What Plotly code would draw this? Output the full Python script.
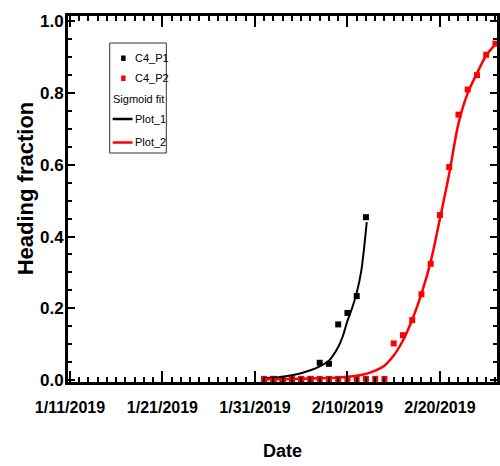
import pandas as pd
import plotly.graph_objects as go

# ---- observed heading fractions ----
p1_dates = ["2019-02-01", "2019-02-02", "2019-02-03", "2019-02-04", "2019-02-05", "2019-02-06",
            "2019-02-07", "2019-02-08", "2019-02-09", "2019-02-10", "2019-02-11", "2019-02-12"]
p1_values = [0.003, 0.003, 0.003, 0.003, 0.003, 0.003,
             0.048, 0.045, 0.155, 0.187, 0.234, 0.454]

p2_dates = ["2019-02-01", "2019-02-02", "2019-02-03", "2019-02-04", "2019-02-05", "2019-02-06",
            "2019-02-07", "2019-02-08", "2019-02-09", "2019-02-10", "2019-02-11", "2019-02-12",
            "2019-02-13", "2019-02-14", "2019-02-15", "2019-02-16", "2019-02-17", "2019-02-18",
            "2019-02-19", "2019-02-20", "2019-02-21", "2019-02-22", "2019-02-23", "2019-02-24",
            "2019-02-25", "2019-02-26"]
p2_values = [0.003, 0.003, 0.003, 0.003, 0.003, 0.003,
             0.003, 0.003, 0.003, 0.003, 0.003, 0.003,
             0.003, 0.003, 0.102, 0.125, 0.167, 0.239,
             0.324, 0.460, 0.594, 0.740, 0.810, 0.850,
             0.907, 0.938]

# ---- sigmoid fit curves (sampled) ----
fit1_dates = ["2019-02-01", "2019-02-03", "2019-02-05", "2019-02-06", "2019-02-07", "2019-02-08",
              "2019-02-09", "2019-02-09 12:00", "2019-02-10", "2019-02-10 12:00", "2019-02-11",
              "2019-02-11 12:00", "2019-02-12", "2019-02-12 02:00"]
fit1_values = [0.005, 0.009, 0.019, 0.027, 0.038, 0.054,
               0.092, 0.122, 0.165, 0.200, 0.243,
               0.305, 0.418, 0.440]

fit2_dates = ["2019-02-01", "2019-02-04", "2019-02-07", "2019-02-09", "2019-02-10", "2019-02-11",
              "2019-02-12", "2019-02-13", "2019-02-14", "2019-02-15", "2019-02-16", "2019-02-17",
              "2019-02-18", "2019-02-19", "2019-02-20", "2019-02-21", "2019-02-22", "2019-02-23",
              "2019-02-24", "2019-02-25", "2019-02-26", "2019-02-26 04:00"]
fit2_values = [0.002, 0.003, 0.005, 0.007, 0.009, 0.012,
               0.017, 0.026, 0.040, 0.068, 0.110, 0.168,
               0.240, 0.330, 0.450, 0.575, 0.715, 0.800,
               0.855, 0.905, 0.936, 0.940]

series_names = ["C4_P1", "C4_P2", "Plot_1", "Plot_2"]
legend_heading = "Sigmoid fit"
y_title = "Heading fraction"
x_title = "Date"
colors = ["#000000", "#ff0000"]

FONT = "Liberation Sans, Arial, sans-serif"


def to_dt(values):
    return pd.to_datetime(values, format="ISO8601")


fig = go.Figure()
fig.add_trace(go.Scatter(x=to_dt(p1_dates), y=p1_values, mode="markers",
                         name=series_names[0],
                         marker=dict(symbol="square", size=6, color=colors[0])))
fig.add_trace(go.Scatter(x=to_dt(p2_dates), y=p2_values, mode="markers",
                         name=series_names[1],
                         marker=dict(symbol="square", size=6, color=colors[1])))
fig.add_trace(go.Scatter(x=to_dt(fit1_dates), y=fit1_values, mode="lines",
                         name=series_names[2], line=dict(color=colors[0], width=2, shape="spline")))
fig.add_trace(go.Scatter(x=to_dt(fit2_dates), y=fit2_values, mode="lines",
                         name=series_names[3], line=dict(color=colors[1], width=2.5, shape="spline")))

# plot-area geometry in pixels
W, H = 500, 466
L, R, T, B = 68, 500, 16, 382


def px(x):
    return (x - L) / (R - L)


def py(y):
    return (B - y) / (B - T)


# legend drawn as a framed box
shapes = [
    dict(type="rect", xref="paper", yref="paper", x0=px(110), x1=px(167), y0=py(153), y1=py(43),
         line=dict(color="#333333", width=1), fillcolor="white", layer="above"),
    dict(type="rect", xref="paper", yref="paper", x0=px(121.5), x1=px(126), y0=py(61), y1=py(55.5),
         line=dict(width=0), fillcolor=colors[0], layer="above"),
    dict(type="rect", xref="paper", yref="paper", x0=px(121.5), x1=px(126), y0=py(81), y1=py(75.5),
         line=dict(width=0), fillcolor=colors[1], layer="above"),
    dict(type="line", xref="paper", yref="paper", x0=px(113), x1=px(133), y0=py(119), y1=py(119),
         line=dict(color=colors[0], width=2.5), layer="above"),
    dict(type="line", xref="paper", yref="paper", x0=px(113), x1=px(133), y0=py(142.5), y1=py(142.5),
         line=dict(color=colors[1], width=2.5), layer="above"),
]
legend_font = dict(family=FONT, size=11, color="black")
annotations = [
    dict(text=series_names[0], x=px(133.5), y=py(58), xanchor="left", yanchor="middle"),
    dict(text=series_names[1], x=px(133.5), y=py(78), xanchor="left", yanchor="middle"),
    dict(text=legend_heading, x=px(138.5), y=py(99), xanchor="center", yanchor="middle"),
    dict(text=series_names[2], x=px(133.5), y=py(119), xanchor="left", yanchor="middle"),
    dict(text=series_names[3], x=px(133.5), y=py(142), xanchor="left", yanchor="middle"),
]
for a in annotations:
    a.update(xref="paper", yref="paper", showarrow=False, font=legend_font)

# vertical axis title
annotations.append(dict(text=y_title, xref="paper", yref="paper", x=px(25), y=py(188),
                        xanchor="center", yanchor="middle", textangle=-90, showarrow=False,
                        font=dict(family=FONT, size=22, color="black", weight="bold")))

fig.update_layout(
    width=W, height=H,
    margin=dict(l=L, r=W - R, t=T, b=H - B, pad=0),
    paper_bgcolor="white", plot_bgcolor="white",
    showlegend=False,
    shapes=shapes, annotations=annotations,
)

fig.update_xaxes(
    type="date",
    range=["2019-01-10 19:00", "2019-02-26 04:00"],
    tick0="2019-01-11", dtick=10 * 86400000, tickformat="%-m/%-d/%Y",
    ticks="inside", ticklen=11, tickwidth=2, tickcolor="black",
    minor=dict(dtick=86400000, tick0="2019-01-11", ticks="inside", ticklen=5, tickwidth=1.5,
               tickcolor="black"),
    showline=True, linewidth=3, linecolor="black", mirror="allticks",
    showgrid=False, zeroline=False,
    tickfont=dict(family=FONT, size=16, color="black", weight="bold"),
    ticklabelstandoff=9,
    title=dict(text=x_title, font=dict(family=FONT, size=18, color="black", weight="bold"),
               standoff=30),
)
fig.update_yaxes(
    range=[-0.0056, 1.015],
    tick0=0, dtick=0.2, tickformat=".1f",
    ticks="inside", ticklen=7, tickwidth=2, tickcolor="black",
    minor=dict(dtick=0.05, ticks="inside", ticklen=4, tickwidth=1.5, tickcolor="black"),
    showline=True, linewidth=3, linecolor="black", mirror="allticks",
    showgrid=False, zeroline=False,
    tickfont=dict(family=FONT, size=17, color="black", weight="bold"),
    ticklabelstandoff=-2,
)

fig.write_html("out.html")
